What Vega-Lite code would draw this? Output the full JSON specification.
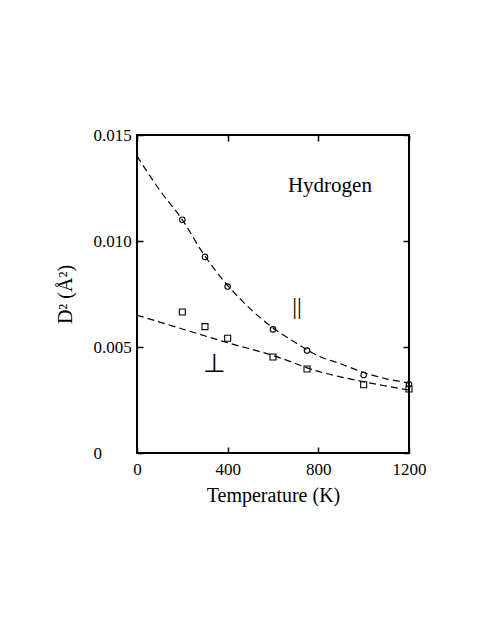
{
  "$schema": "https://vega.github.io/schema/vega-lite/v6.json",
  "description": "Hydrogen D^2 vs temperature, parallel and perpendicular",
  "autosize": "none",
  "width": 272,
  "height": 318,
  "padding": {"left": 137, "top": 135, "right": 82, "bottom": 182},
  "background": "white",
  "config": {
    "font": "Liberation Serif",
    "view": {"stroke": "black", "strokeWidth": 2},
    "axis": {
      "domain": false,
      "grid": false,
      "labelFlush": false,
      "tickColor": "black",
      "tickSize": -6,
      "tickWidth": 1.5,
      "labelFont": "Liberation Serif",
      "labelFontSize": 17,
      "labelColor": "black",
      "titleFont": "Liberation Serif",
      "titleFontSize": 20,
      "titleFontWeight": "normal",
      "titleColor": "black"
    }
  },
  "datasets": {
    "points": [
      {"T": 200, "D": 0.0110, "dir": "par"},
      {"T": 300, "D": 0.00925, "dir": "par"},
      {"T": 400, "D": 0.00785, "dir": "par"},
      {"T": 600, "D": 0.00583, "dir": "par"},
      {"T": 750, "D": 0.00483, "dir": "par"},
      {"T": 1000, "D": 0.00368, "dir": "par"},
      {"T": 1200, "D": 0.00324, "dir": "par"},
      {"T": 200, "D": 0.00665, "dir": "perp"},
      {"T": 300, "D": 0.00596, "dir": "perp"},
      {"T": 400, "D": 0.00541, "dir": "perp"},
      {"T": 600, "D": 0.00453, "dir": "perp"},
      {"T": 750, "D": 0.00396, "dir": "perp"},
      {"T": 1000, "D": 0.00322, "dir": "perp"},
      {"T": 1200, "D": 0.00302, "dir": "perp"}
    ],
    "curves": [
      {"T": 0, "D": 0.0140, "dir": "par"},
      {"T": 100, "D": 0.0124, "dir": "par"},
      {"T": 200, "D": 0.0110, "dir": "par"},
      {"T": 300, "D": 0.00928, "dir": "par"},
      {"T": 400, "D": 0.0079, "dir": "par"},
      {"T": 500, "D": 0.0068, "dir": "par"},
      {"T": 600, "D": 0.0059, "dir": "par"},
      {"T": 700, "D": 0.0052, "dir": "par"},
      {"T": 800, "D": 0.00458, "dir": "par"},
      {"T": 900, "D": 0.0042, "dir": "par"},
      {"T": 1000, "D": 0.0038, "dir": "par"},
      {"T": 1100, "D": 0.0035, "dir": "par"},
      {"T": 1200, "D": 0.0033, "dir": "par"},
      {"T": 0, "D": 0.0065, "dir": "perp"},
      {"T": 200, "D": 0.00585, "dir": "perp"},
      {"T": 400, "D": 0.0052, "dir": "perp"},
      {"T": 600, "D": 0.0046, "dir": "perp"},
      {"T": 800, "D": 0.00385, "dir": "perp"},
      {"T": 1000, "D": 0.00336, "dir": "perp"},
      {"T": 1200, "D": 0.00297, "dir": "perp"}
    ],
    "labels": [
      {"T": 851, "D": 0.0126, "text": "Hydrogen", "size": 21},
      {"T": 706, "D": 0.0069, "text": "||", "size": 24},
      {"T": 344, "D": 0.0042, "text": "⊥", "size": 26}
    ]
  },
  "layer": [
    {
      "data": {"name": "curves"},
      "mark": {"type": "line", "color": "black", "strokeWidth": 1.2, "strokeDash": [7, 4], "interpolate": "catmull-rom"},
      "encoding": {
        "x": {"field": "T", "type": "quantitative", "scale": {"domain": [0, 1200], "nice": false}, "axis": {"values": [0, 400, 800, 1200], "format": "d", "title": "Temperature (K)", "labelPadding": 14, "titlePadding": 8}},
        "y": {"field": "D", "type": "quantitative", "scale": {"domain": [0, 0.015], "nice": false}, "axis": {"values": [0, 0.005, 0.01, 0.015], "labelExpr": "datum.value == 0 ? '0' : format(datum.value, '.3f')", "labelAlign": "left", "title": "D² (Å²)", "labelPadding": 50, "titlePadding": 18}},
        "detail": {"field": "dir"}
      }
    },
    {
      "data": {"name": "points"},
      "mark": {"type": "point", "color": "black", "strokeWidth": 1.1, "filled": false, "opacity": 1},
      "encoding": {
        "x": {"field": "T", "type": "quantitative", "axis": {"orient": "top", "values": [0, 400, 800, 1200], "labels": false, "title": null}},
        "y": {"field": "D", "type": "quantitative", "axis": {"orient": "right", "values": [0, 0.005, 0.01, 0.015], "labels": false, "title": null}},
        "shape": {"field": "dir", "type": "nominal", "scale": {"domain": ["par", "perp"], "range": ["circle", "square"]}, "legend": null},
        "size": {"field": "dir", "type": "nominal", "scale": {"domain": ["par", "perp"], "range": [30, 36]}, "legend": null}
      }
    },
    {
      "data": {"name": "labels"},
      "mark": {"type": "text", "color": "black", "font": "Liberation Serif", "baseline": "middle", "align": "center"},
      "encoding": {
        "x": {"field": "T", "type": "quantitative", "axis": null},
        "y": {"field": "D", "type": "quantitative", "axis": null},
        "text": {"field": "text"},
        "size": {"field": "size", "type": "quantitative", "scale": null}
      }
    }
  ],
  "resolve": {"axis": {"x": "independent", "y": "independent"}}
}
